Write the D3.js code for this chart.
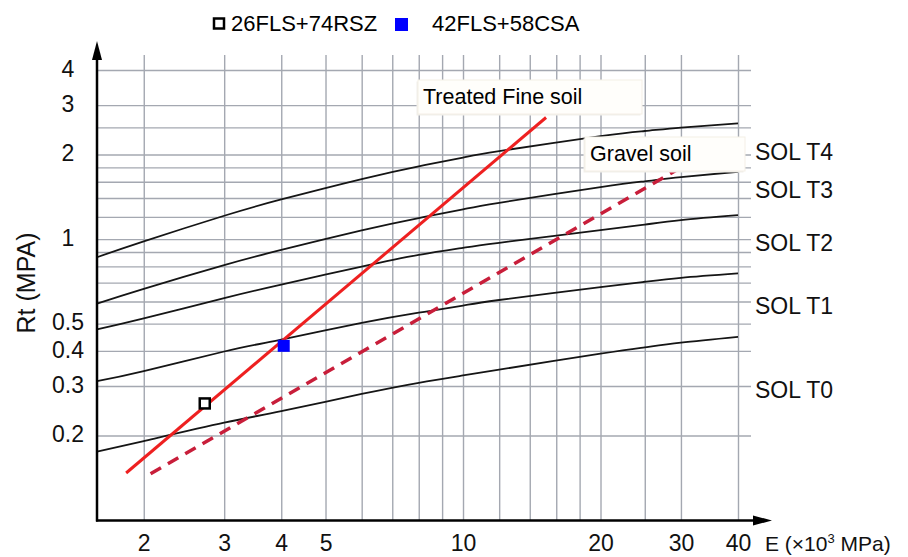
<!DOCTYPE html>
<html>
<head>
<meta charset="utf-8">
<script src="https://cdn.jsdelivr.net/npm/d3@7"></script>
<style>
  body { margin: 0; background: #fff; }
  svg { display: block; font-family: 'Liberation Sans', Arial, sans-serif; }
</style>
</head>
<body>
<svg width="908" height="557"></svg>
<script>
// E (x10^3 MPa) and Rt (MPa), both log scales
const xTicks = [2, 3, 4, 5, 10, 20, 30, 40];
const yTicks = [0.2, 0.3, 0.4, 0.5, 1, 2, 3, 4];
const xGridValues = [2, 3, 4, 5, 6, 7, 8, 9, 10, 12, 14, 16, 18, 20, 25, 30, 40];
const yGridValues = [0.2, 0.3, 0.4, 0.5, 0.6, 0.7, 0.8, 0.9, 1, 1.2, 1.4, 1.6, 1.8, 2, 2.5, 3, 4];

// soil class curves, sampled at these E values
const curveE = [1.58, 2, 3, 4, 6, 8, 10, 12, 20, 25, 30, 40];
const solT0 = [0.175, 0.191, 0.222, 0.244, 0.281, 0.308, 0.327, 0.343, 0.391, 0.412, 0.428, 0.449];
const solT1 = [0.312, 0.339, 0.398, 0.439, 0.503, 0.547, 0.580, 0.607, 0.675, 0.705, 0.728, 0.755];
const solT2 = [0.477, 0.522, 0.617, 0.689, 0.798, 0.878, 0.931, 0.970, 1.077, 1.126, 1.169, 1.217];
const solT3 = [0.589, 0.665, 0.808, 0.915, 1.074, 1.188, 1.276, 1.347, 1.532, 1.606, 1.661, 1.737];
const solT4 = [0.862, 0.982, 1.211, 1.384, 1.636, 1.816, 1.951, 2.058, 2.327, 2.426, 2.495, 2.583];
const solNames = ['SOL T0', 'SOL T1', 'SOL T2', 'SOL T3', 'SOL T4'];
const solLabelY = [0.29, 0.58, 0.97, 1.5, 2.05];

// straight lines in log-log
const treatedE = [1.83, 15.2];
const treatedRt = [0.147, 2.71];
const gravelE = [2.07, 29.3];
const gravelRt = [0.146, 1.76];

// measured mixes
const sampleNames = ['26FLS+74RSZ', '42FLS+58CSA'];
const sampleE = [2.72, 4.05];
const sampleRt = [0.26, 0.417];

const svg = d3.select('svg');

const left = 97, right = 738, bottom = 520;
const xScale = d3.scaleLog().domain([1.58, 40]).range([left, right]);
const yScale = d3.scaleLog().domain([0.1, 4]).range([bottom, 70]);

const gridColor = '#a4a8b1';

// vertical grid
const xGrid = svg.append('g')
    .attr('transform', `translate(0, ${bottom})`)
    .call(d3.axisBottom(xScale).tickValues(xGridValues).tickSize(-(bottom - 55)).tickFormat(''));
xGrid.select('.domain').remove();
xGrid.selectAll('line').attr('stroke', gridColor).attr('stroke-width', 1.4);

// horizontal grid
const yGrid = svg.append('g')
    .attr('transform', `translate(${left}, 0)`)
    .call(d3.axisLeft(yScale).tickValues(yGridValues).tickSize(-(751 - left)).tickFormat(''));
yGrid.select('.domain').remove();
yGrid.selectAll('line').attr('stroke', gridColor).attr('stroke-width', 1.4);

// tick labels
const xAxisG = svg.append('g')
    .attr('transform', `translate(0, ${bottom})`)
    .call(d3.axisBottom(xScale).tickValues(xTicks).tickSize(0).tickFormat(d3.format('d')));
xAxisG.select('.domain').remove();
xAxisG.selectAll('text')
    .attr('dy', null).attr('y', 31)
    .attr('font-size', 23).attr('font-family', 'Liberation Sans, Arial, sans-serif')
    .attr('fill', '#111');

const yAxisG = svg.append('g')
    .attr('transform', 'translate(68, 0)')
    .call(d3.axisLeft(yScale).tickValues(yTicks).tickSize(0).tickFormat(d => d));
yAxisG.select('.domain').remove();
yAxisG.selectAll('text')
    .attr('x', 0).attr('y', -2).attr('dy', '0.36em')
    .attr('text-anchor', 'middle')
    .attr('font-size', 23).attr('font-family', 'Liberation Sans, Arial, sans-serif')
    .attr('fill', '#111');

// soil curves
const line = d3.line()
    .x(d => xScale(d[0]))
    .y(d => yScale(d[1]))
    .curve(d3.curveNatural);

const solSeries = [solT0, solT1, solT2, solT3, solT4];
svg.append('g')
    .selectAll('path')
    .data(solSeries)
    .enter()
        .append('path')
        .attr('d', s => line(s.map((v, i) => [curveE[i], v])))
        .attr('fill', 'none')
        .attr('stroke', '#151515')
        .attr('stroke-width', 1.8);

svg.append('g')
    .selectAll('text')
    .data(solNames)
    .enter()
        .append('text')
        .attr('x', 755)
        .attr('y', (d, i) => yScale(solLabelY[i]))
        .attr('dy', '0.35em')
        .attr('font-size', 23)
        .attr('fill', '#111')
        .text(d => d);

// treated fine soil / gravel soil
svg.append('path')
    .attr('d', d3.line()(treatedE.map((e, i) => [xScale(e), yScale(treatedRt[i])])))
    .attr('stroke', '#ee2020')
    .attr('stroke-width', 3)
    .attr('fill', 'none');

svg.append('path')
    .attr('d', d3.line()(gravelE.map((e, i) => [xScale(e), yScale(gravelRt[i])])))
    .attr('stroke', '#c81e3a')
    .attr('stroke-width', 3.5)
    .attr('stroke-dasharray', '12 8')
    .attr('fill', 'none');

// sample markers
svg.append('rect')
    .attr('x', xScale(sampleE[0]) - 5).attr('y', yScale(sampleRt[0]) - 5)
    .attr('width', 10).attr('height', 10)
    .attr('fill', '#fff').attr('stroke', '#000').attr('stroke-width', 2.5);
svg.append('rect')
    .attr('x', xScale(sampleE[1]) - 6).attr('y', yScale(sampleRt[1]) - 6)
    .attr('width', 12).attr('height', 12)
    .attr('fill', '#0000ff');

// annotation boxes
const boxes = [
    { text: 'Treated Fine soil', x: 418, y: 80, w: 224, h: 34 },
    { text: 'Gravel soil', x: 585, y: 137, w: 160, h: 34 }
];
boxes.forEach(b => {
    svg.append('rect')
        .attr('x', b.x - 1.5).attr('y', b.y + 1.5)
        .attr('width', b.w).attr('height', b.h)
        .attr('fill', '#f1efeb');
    svg.append('rect')
        .attr('x', b.x).attr('y', b.y)
        .attr('width', b.w).attr('height', b.h)
        .attr('fill', '#fffefb')
        .attr('stroke', '#f4efe6');
    svg.append('text')
        .attr('x', b.x + 5).attr('y', b.y + 24)
        .attr('font-size', 21.5)
        .attr('fill', '#000')
        .text(b.text);
});

// axis lines with arrows
svg.append('line')
    .attr('x1', left).attr('y1', bottom + 1.5).attr('x2', left).attr('y2', 58)
    .attr('stroke', '#000').attr('stroke-width', 2.5);
svg.append('path')
    .attr('d', `M${left},41 L${left - 5},60 L${left + 5},60 Z`)
    .attr('fill', '#000');
svg.append('line')
    .attr('x1', left - 1).attr('y1', bottom + 0.5).attr('x2', 756).attr('y2', bottom + 0.5)
    .attr('stroke', '#000').attr('stroke-width', 2.5);
svg.append('path')
    .attr('d', `M772,${bottom + 0.5} L753,${bottom - 4.5} L753,${bottom + 5.5} Z`)
    .attr('fill', '#000');

// axis titles
svg.append('text')
    .attr('transform', 'translate(35, 283) rotate(-90)')
    .attr('text-anchor', 'middle')
    .attr('font-size', 25)
    .attr('fill', '#111')
    .text('Rt (MPA)');

const xTitle = svg.append('text')
    .attr('x', 765).attr('y', 551)
    .attr('font-size', 21)
    .attr('fill', '#111');
xTitle.append('tspan').text('E (×10');
xTitle.append('tspan').attr('font-size', 13).attr('dy', -8).text('3');
xTitle.append('tspan').attr('dy', 8).text(' MPa)');

// legend
const legend = svg.append('g');
legend.append('rect')
    .attr('x', 214).attr('y', 18.5).attr('width', 10).attr('height', 10)
    .attr('fill', '#fff').attr('stroke', '#000').attr('stroke-width', 2.5);
legend.append('text')
    .attr('x', 231).attr('y', 31).attr('font-size', 22).attr('fill', '#000')
    .text(sampleNames[0]);
legend.append('rect')
    .attr('x', 395).attr('y', 18).attr('width', 13).attr('height', 13)
    .attr('fill', '#0000ff');
legend.append('text')
    .attr('x', 432).attr('y', 31).attr('font-size', 22).attr('fill', '#000')
    .text(sampleNames[1]);
</script>
</body>
</html>
